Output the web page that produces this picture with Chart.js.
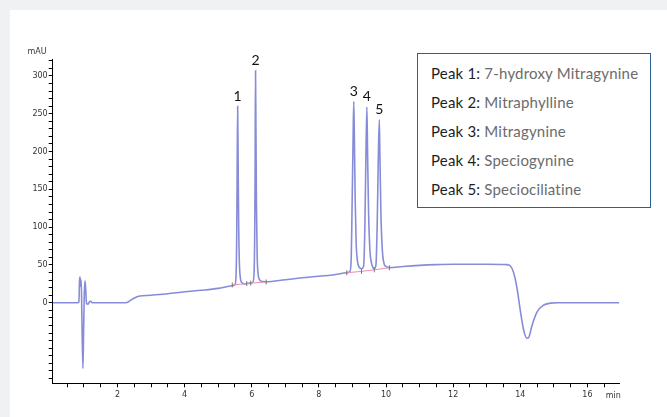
<!DOCTYPE html>
<html>
<head>
<meta charset="utf-8">
<script src="https://cdn.jsdelivr.net/npm/chart.js@4.4.1/dist/chart.umd.min.js"></script>
<style>
  html, body { margin: 0; padding: 0; }
  body { width: 667px; height: 417px; background: #f0f1f3; position: relative; overflow: hidden; }
  #panel { position: absolute; left: 10px; top: 10px; width: 657px; height: 407px; background: #fff; }
  #chart { position: absolute; left: 0; top: 0; }
  #peaks {
    position: absolute; left: 407px; top: 43px; width: 234px; height: 155px;
    box-sizing: border-box; border: 1.5px solid #2d5f8f; background: #fff;
    padding: 5px 0 0 13px; font-family: Lato, sans-serif; font-size: 15px; letter-spacing: 0.2px; line-height: 29px;
  }
  #peaks .k { color: #1e1e1e; }
  #peaks .v { color: #6b6b6b; }
</style>
</head>
<body>
<div id="panel">
  <canvas id="chart" width="657" height="407"></canvas>
  <div id="peaks"></div>
</div>
<script>
// chromatogram trace (min, mAU)
const timeMin = [
  0.07, 0.80, 0.85, 0.87, 0.885, 0.90, 0.92, 0.94, 0.97, 0.99, 1.01, 1.03, 1.05, 1.08, 1.12, 1.16, 1.20, 1.25,
  2.25, 2.45, 2.63, 3.0, 3.5, 4.0, 4.5, 5.0, 5.42,
  5.50, 5.53, 5.55, 5.565, 5.58, 5.595, 5.61, 5.63, 5.66, 5.70, 5.78, 5.85, 5.97,
  6.03, 6.07, 6.09, 6.10, 6.112, 6.125, 6.14, 6.16, 6.19, 6.24, 6.32, 6.43,
  7.0, 7.5, 8.0, 8.5, 8.83,
  8.92, 8.96, 8.99, 9.02, 9.04, 9.06, 9.08, 9.11, 9.15, 9.20, 9.27,
  9.33, 9.37, 9.40, 9.43, 9.45, 9.48, 9.52, 9.57, 9.62, 9.65,
  9.70, 9.74, 9.77, 9.80, 9.82, 9.85, 9.89, 9.94, 10.0, 10.10,
  10.5, 11.0, 11.5, 12.0, 13.0, 13.6, 13.7, 13.8, 13.9, 14.0, 14.1, 14.2, 14.25, 14.35, 14.5, 14.7, 14.9, 15.1, 16.95
];
const signalMau = [
  0, 0, 1, 30, 34, 22, 30, -20, -87, -40, 10, 29, 20, -1, -2, 1, 2, 0,
  0, 5, 8.5, 10, 12, 14.5, 16.5, 19, 22.5,
  24, 34, 80, 170, 260, 185, 105, 55, 33, 27, 25, 25.5, 26,
  27, 40, 100, 170, 307, 230, 130, 65, 38, 30, 28, 27.8,
  30.5, 33, 35, 37.5, 39.7,
  41, 55, 130, 220, 266, 210, 140, 80, 55, 47, 45,
  48, 100, 190, 259, 200, 120, 70, 52, 46, 45,
  50, 110, 190, 242, 190, 115, 70, 52, 48, 46.5,
  48, 49.5, 50.5, 51, 51, 50.5, 49, 40, 20, -10, -36, -47, -46, -30, -12, -3, -0.5, 0, 0
];

// integration baselines (pink) with their start/stop marks
const baseATime = [5.42, 5.85, 5.97, 6.43];
const baseAMau = [23.5, 25.5, 26, 27.5];
const baseBTime = [8.83, 9.27, 9.65, 10.10];
const baseBMau = [39.7, 41.5, 43.6, 46.3];

// peak labels
const peakNums = ['1', '2', '3', '4', '5'];
const peakTime = [5.58, 6.112, 9.04, 9.43, 9.80];
const peakApex = [260, 307, 266, 259, 242];
const peakNames = ['7-hydroxy Mitragynine', 'Mitraphylline', 'Mitragynine', 'Speciogynine', 'Speciociliatine'];

// axes
const xLabelValues = [2, 4, 6, 8, 10, 12, 14, 16];
const xMinorStep = 0.5;
const yLabelValues = [0, 50, 100, 150, 200, 250, 300];
const yMinorStep = 10;

document.getElementById('peaks').innerHTML = peakNums.map((n, i) =>
  '<div><span class="k">Peak ' + n + ':</span> <span class="v">' + peakNames[i] + '</span></div>'
).join('');

const toXY = (xs, ys) => xs.map((x, i) => ({ x: x, y: ys[i] }));

const peakLabels = {
  id: 'peakLabels',
  afterDatasetsDraw(chart) {
    const { ctx, scales: { x, y } } = chart;
    ctx.save();
    ctx.fillStyle = '#111';
    ctx.font = '14px Lato, sans-serif';
    ctx.textAlign = 'center';
    ctx.textBaseline = 'bottom';
    peakNums.forEach((n, i) => {
      ctx.fillText(n, x.getPixelForValue(peakTime[i]), y.getPixelForValue(peakApex[i]) - 3);
    });
    // unit labels
    ctx.fillStyle = '#333';
    ctx.font = '8px "DejaVu Sans"';
    ctx.textBaseline = 'middle';
    ctx.fillText('mAU', 27, 42);
    ctx.fillText('min', x.right - 6, 386);
    ctx.restore();
  }
};

Chart.defaults.font.family = '"DejaVu Sans", sans-serif';

new Chart(document.getElementById('chart'), {
  type: 'line',
  data: {
    datasets: [
      {
        data: toXY(baseATime, baseAMau),
        borderColor: '#ec8fae',
        borderWidth: 1,
        pointStyle: 'line',
        pointRotation: 90,
        pointRadius: 2.5,
        pointBorderColor: '#777',
        pointBorderWidth: 1
      },
      {
        data: toXY(baseBTime, baseBMau),
        borderColor: '#ec8fae',
        borderWidth: 1,
        pointStyle: 'line',
        pointRotation: 90,
        pointRadius: 2.5,
        pointBorderColor: '#777',
        pointBorderWidth: 1
      },
      {
        data: toXY(timeMin, signalMau),
        borderColor: '#878cd8',
        borderWidth: 1.6,
        pointRadius: 0,
        cubicInterpolationMode: 'monotone'
      }
    ]
  },
  options: {
    responsive: false,
    animation: false,
    events: [],
    layout: { padding: { top: 49, right: 47.7, left: 0, bottom: 0 } },
    plugins: { legend: { display: false }, tooltip: { enabled: false } },
    scales: {
      x: {
        type: 'linear',
        min: 0.07,
        max: 16.95,
        afterBuildTicks: (scale) => {
          const t = [];
          for (let v = xMinorStep; v <= 16.5; v += xMinorStep) t.push({ value: v });
          scale.ticks = t;
        },
        afterFit: (scale) => { scale.height = 33.7; },
        border: { display: true, color: '#000', width: 1 },
        grid: { drawOnChartArea: false, drawTicks: true, tickLength: 4, color: '#000' },
        ticks: {
          autoSkip: false,
          maxRotation: 0,
          padding: 3,
          color: '#333',
          font: { size: 8 },
          callback: (v) => xLabelValues.includes(v) ? String(v) : ''
        }
      },
      y: {
        min: -106.5,
        max: 322.4,
        afterBuildTicks: (scale) => {
          const t = [];
          for (let v = -100; v <= 320; v += yMinorStep) t.push({ value: v });
          scale.ticks = t;
        },
        afterFit: (scale) => { scale.width = 42.7; },
        border: { display: true, color: '#000', width: 1 },
        grid: { drawOnChartArea: false, drawTicks: true, tickLength: 4, color: '#000' },
        ticks: {
          autoSkip: false,
          padding: 1,
          color: '#333',
          font: { size: 8 },
          callback: (v) => yLabelValues.includes(v) ? String(v) : ''
        }
      }
    }
  },
  plugins: [peakLabels]
});
</script>
</body>
</html>
